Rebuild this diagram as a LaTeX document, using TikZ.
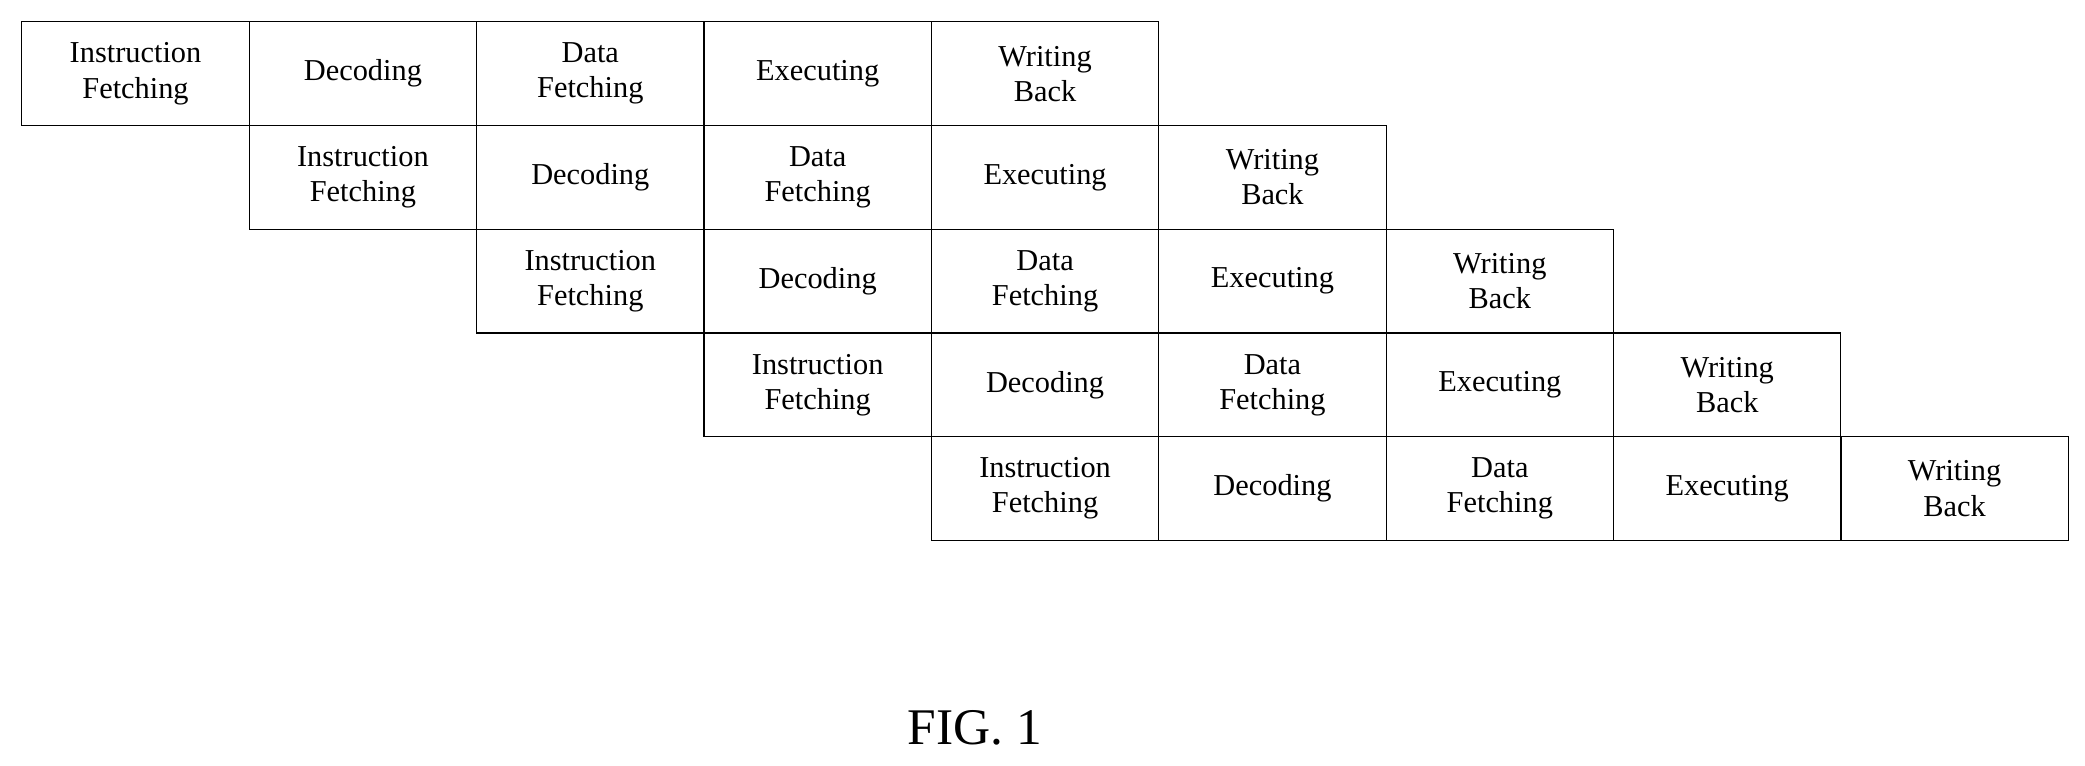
\documentclass[tikz,border=0pt]{standalone}
\usepackage{fontspec}
\setmainfont{Liberation Serif}
\usetikzlibrary{positioning}
\tikzset{stage/.style={draw, line width=0.5pt, rectangle, inner sep=0pt,
    minimum width=3.42cm, minimum height=1.56cm, align=center,
    font=\fontsize{13}{15}\selectfont}}
\begin{document}
\begin{tikzpicture}[x=0.02cm,y=-0.02cm]
    \useasboundingbox (0,0) rectangle (1568,576);
    % one row per instruction, shifted by one stage
    \foreach \i in {0,...,4}{
      \foreach \j/\txt in {0/Instruction\\Fetching, 1/Decoding, 2/Data\\Fetching, 3/Executing, 4/Writing\\Back}{
        \node [stage, anchor=north west] (c-\i-\j) at ({16+171*(\i+\j)},{16+78*\i}) {\txt};
      }
    }
    \node [font=\fontsize{22}{26}\selectfont] (fig) at (733,547) {FIG. 1};
\end{tikzpicture}
\end{document}
